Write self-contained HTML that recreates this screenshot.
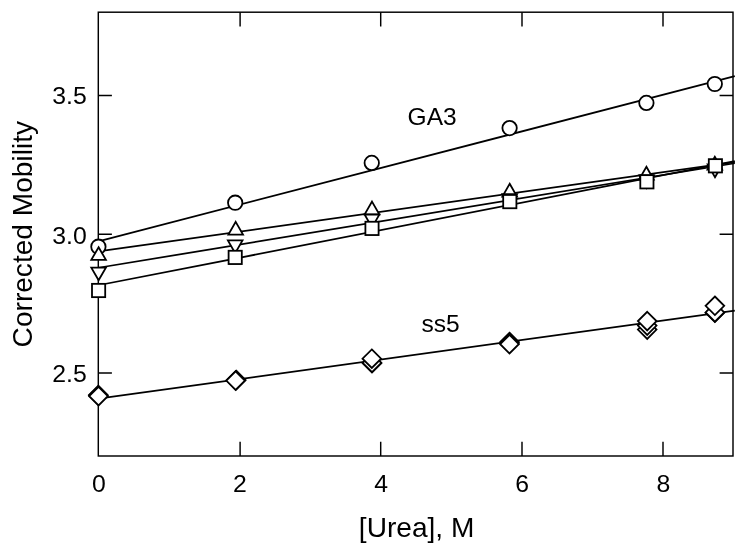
<!DOCTYPE html>
<html><head><meta charset="utf-8"><title>Corrected Mobility vs [Urea]</title>
<style>html,body{margin:0;padding:0;background:#fff}svg{display:block}text{font-family:"Liberation Sans",Arial,sans-serif;fill:#000}</style></head>
<body>
<svg width="745" height="552" viewBox="0 0 745 552">
<rect width="745" height="552" fill="#fff"/>
<g fill="none" stroke="#000" stroke-width="1.45">
<rect x="98.3" y="12.2" width="634.7" height="443.8"/>
<path d="M240.1 12.2V26.5M240.1 456.0V441.7"/>
<path d="M380.7 12.2V26.5M380.7 456.0V441.7"/>
<path d="M522.0 12.2V26.5M522.0 456.0V441.7"/>
<path d="M663.0 12.2V26.5M663.0 456.0V441.7"/>
<path d="M98.3 95.5H111.9M733.0 95.5H719.6"/>
<path d="M98.3 234.3H111.9M733.0 234.3H719.6"/>
<path d="M98.3 373.0H111.9M733.0 373.0H719.6"/>
</g>
<g fill="none" stroke="#000" stroke-width="1.75">
<path d="M98.3 241.28L734.8 76.18"/>
<path d="M98.3 251.44L734.8 162.18"/>
<path d="M98.3 267.75L734.8 163.24"/>
<path d="M98.3 285.26L734.8 161.09"/>
<path d="M98.3 398.54L734.8 310.68"/>
</g>
<g fill="#fff" stroke="#000" stroke-width="1.8" stroke-linejoin="miter">
<circle cx="98.4" cy="246.7" r="7.2"/>
<circle cx="235.2" cy="202.7" r="7.2"/>
<circle cx="371.75" cy="162.9" r="7.2"/>
<circle cx="509.6" cy="128.1" r="7.2"/>
<circle cx="646.4" cy="102.9" r="7.2"/>
<circle cx="714.8" cy="84.0" r="7.2"/>
<path d="M98.6 247.2L105.9 259.9H91.3Z"/>
<path d="M235.7 221.9L243.0 234.6H228.4Z"/>
<path d="M372.0 201.6L379.3 214.3H364.7Z"/>
<path d="M509.7 183.8L517.0 196.5H502.4Z"/>
<path d="M646.4 166.8L653.7 179.5H639.1Z"/>
<path d="M714.8 156.8L722.1 169.5H707.5Z"/>
<path d="M98.6 280.3L105.9 267.6H91.3Z"/>
<path d="M235.2 253.1L242.5 240.4H227.9Z"/>
<path d="M372.0 227.4L379.3 214.7H364.7Z"/>
<path d="M509.7 206.8L517.0 194.1H502.4Z"/>
<path d="M646.6 188.0L653.9 175.3H639.3Z"/>
<path d="M715.0 177.2L722.3 164.5H707.7Z"/>
<rect x="92.0" y="283.85" width="13.2" height="13.3"/>
<rect x="228.6" y="250.75" width="13.2" height="13.3"/>
<rect x="365.4" y="221.75" width="13.2" height="13.3"/>
<rect x="503.2" y="194.95" width="13.2" height="13.3"/>
<rect x="640.3" y="175.15" width="13.2" height="13.3"/>
<rect x="708.8" y="159.15" width="13.2" height="13.3"/>
<path d="M98.3 385.7L107.6 395.0L98.3 404.3L89.0 395.0Z"/>
<path d="M236.2 370.7L245.5 380.0L236.2 389.3L226.9 380.0Z"/>
<path d="M372.0 353.9L381.3 363.2L372.0 372.5L362.7 363.2Z"/>
<path d="M509.5 332.7L518.8 342.0L509.5 351.3L500.2 342.0Z"/>
<path d="M647.2 320.3L656.5 329.6L647.2 338.9L637.9 329.6Z"/>
<path d="M714.9 303.5L724.2 312.8L714.9 322.1L705.6 312.8Z"/>
<path d="M98.3 386.2L107.6 395.5L98.3 404.8L89.0 395.5Z"/>
<path d="M236.0 370.9L245.3 380.2L236.0 389.5L226.7 380.2Z"/>
<path d="M372.0 353.5L381.3 362.8L372.0 372.1L362.7 362.8Z"/>
<path d="M509.5 333.7L518.8 343.0L509.5 352.3L500.2 343.0Z"/>
<path d="M647.2 316.3L656.5 325.6L647.2 334.9L637.9 325.6Z"/>
<path d="M714.9 303.1L724.2 312.4L714.9 321.7L705.6 312.4Z"/>
<path d="M98.55 386.9L107.8 396.2L98.55 405.5L89.2 396.2Z"/>
<path d="M235.6 371.3L244.9 380.6L235.6 389.9L226.3 380.6Z"/>
<path d="M371.8 349.4L381.1 358.7L371.8 368.0L362.5 358.7Z"/>
<path d="M509.5 334.9L518.8 344.2L509.5 353.5L500.2 344.2Z"/>
<path d="M647.2 311.8L656.5 321.1L647.2 330.4L637.9 321.1Z"/>
<path d="M714.9 296.5L724.2 305.8L714.9 315.1L705.6 305.8Z"/>
</g>
<g font-size="24.8px">
<text x="86.7" y="104.1" text-anchor="end">3.5</text>
<text x="86.7" y="243.8" text-anchor="end">3.0</text>
<text x="86.7" y="381.9" text-anchor="end">2.5</text>
<text x="98.8" y="491.8" text-anchor="middle">0</text>
<text x="239.9" y="491.8" text-anchor="middle">2</text>
<text x="381.1" y="491.8" text-anchor="middle">4</text>
<text x="522.2" y="491.8" text-anchor="middle">6</text>
<text x="663.4" y="491.8" text-anchor="middle">8</text>
<text x="407.6" y="125.1" font-size="24.5px">GA3</text>
<text x="421.5" y="331.5" font-size="24.6px">ss5</text>
</g>
<g font-size="28.1px">
<text x="416.6" y="536.8" text-anchor="middle">[Urea], M</text>
<text transform="translate(32.0 234.2) rotate(-90)" text-anchor="middle">Corrected Mobility</text>
</g>
</svg>
</body></html>
